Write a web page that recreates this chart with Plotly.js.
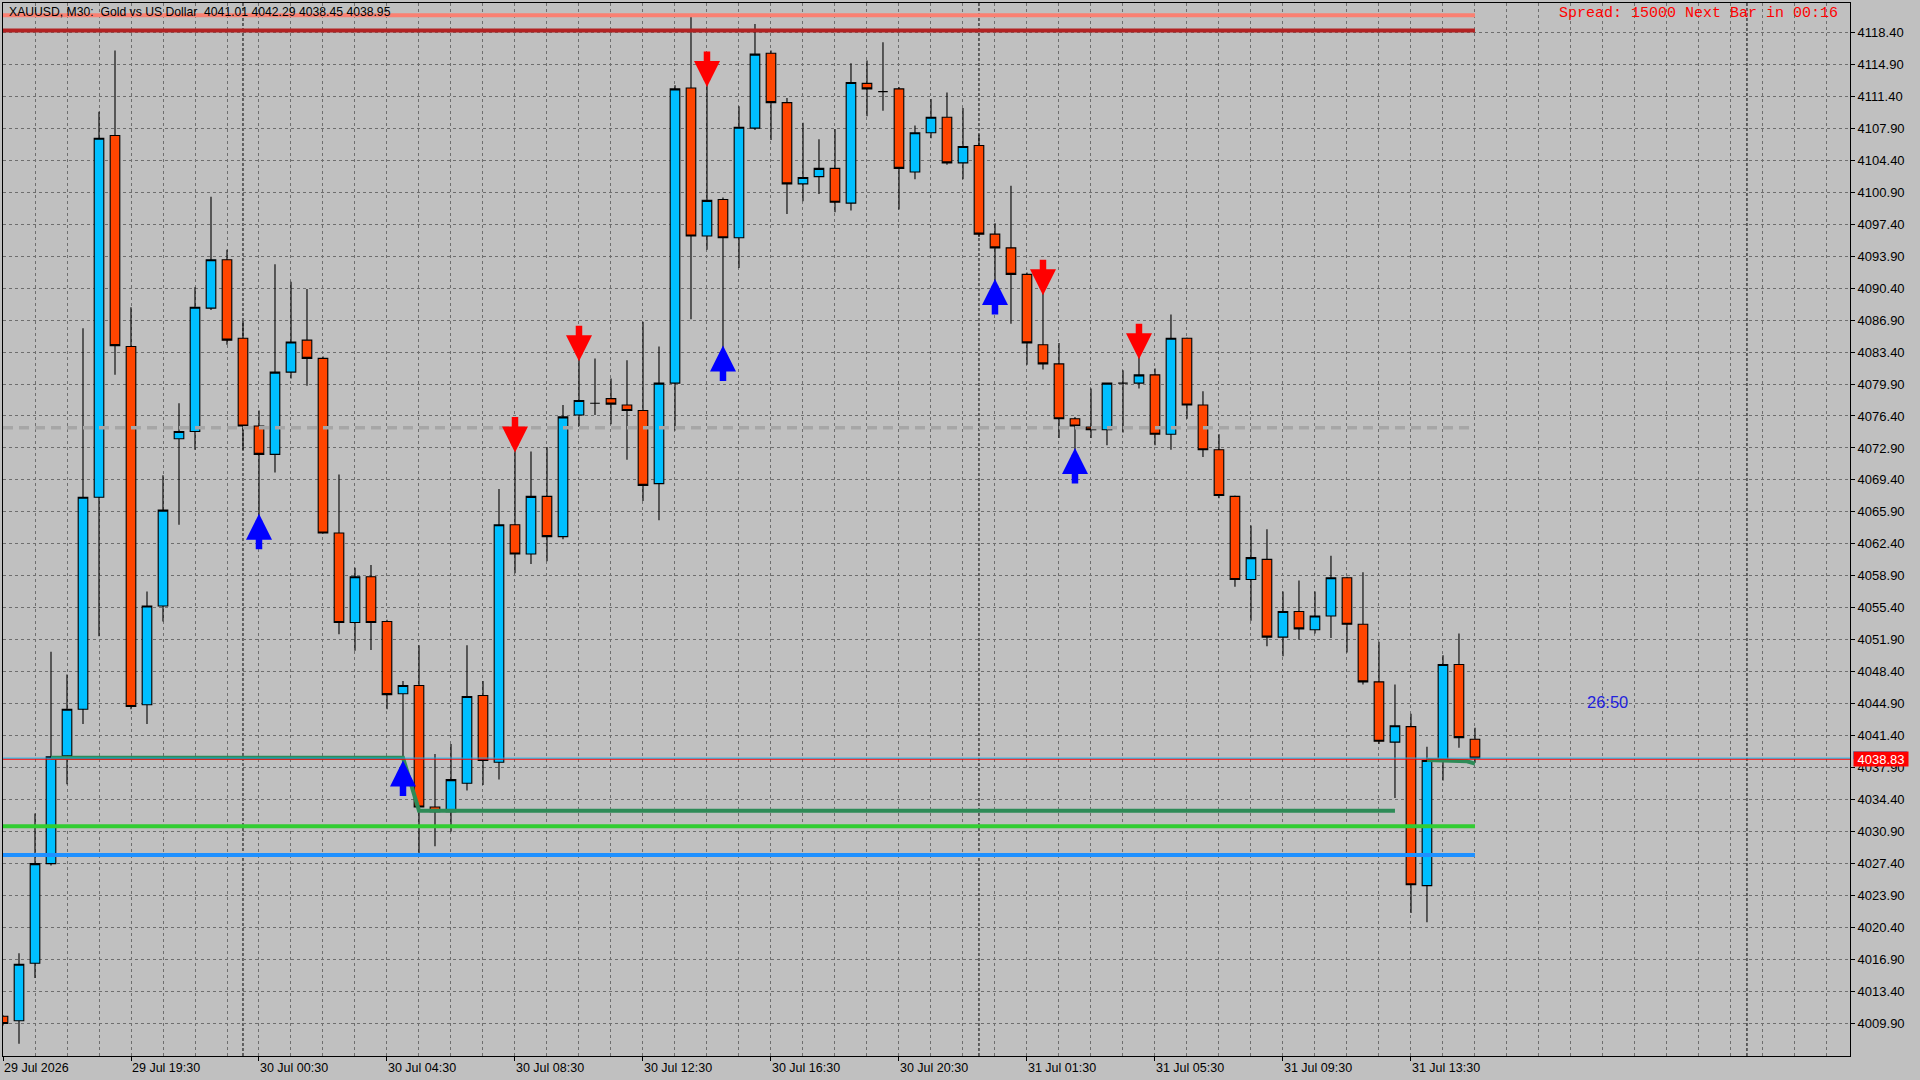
<!DOCTYPE html>
<html><head><meta charset="utf-8">
<script src="https://cdn.plot.ly/plotly-3.0.1.min.js"></script>
<style>html,body{margin:0;padding:0;background:#C0C0C0;overflow:hidden}#chart{width:1920px;height:1080px}</style>
</head><body><div id="chart"></div>
<script>
// ---- OHLC data (XAUUSD M30), bar index 0..92 ----
const openP  = [4010.7,4010.2,4016.5,4027.4,4039.2,4044.3,4067.5,4107.1,4084.0,4044.8,
                4055.6,4073.9,4074.7,4088.2,4093.5,4084.9,4075.3,4072.2,4081.2,4084.7,
                4082.7,4063.6,4053.8,4058.8,4053.9,4046.0,4046.9,4033.6,4033.1,4036.2,
                4045.8,4038.5,4064.5,4061.3,4067.6,4063.2,4076.5,4077.8,4078.3,4077.6,
                4077.0,4069.0,4080.0,4112.3,4096.1,4100.1,4095.9,4107.9,4116.1,4110.7,
                4101.8,4102.6,4103.5,4099.7,4112.8,4111.9,4112.2,4103.1,4107.4,4109.1,
                4104.1,4106.0,4096.3,4094.8,4091.9,4084.2,4082.1,4076.1,4075.2,4074.9,
                4080.0,4080.0,4080.9,4074.4,4084.9,4077.6,4072.7,4067.6,4058.5,4060.7,
                4052.2,4055.0,4053.0,4054.5,4058.7,4053.6,4047.3,4040.7,4042.4,4025.0,
                4038.7,4049.2,4041.01];
const highP  = [4010.8,4017.6,4032.9,4050.6,4048.1,4086.0,4109.7,4116.4,4088.3,4057.2,
                4069.9,4077.8,4090.5,4100.4,4094.6,4086.8,4077.0,4093.0,4091.1,4090.3,
                4082.9,4070.0,4059.8,4060.1,4054.1,4047.4,4051.3,4039.4,4040.5,4051.3,
                4047.4,4068.4,4072.9,4072.5,4073.0,4077.6,4083.0,4082.7,4080.5,4082.5,
                4086.7,4084.0,4112.6,4120.2,4113.0,4100.3,4110.3,4119.3,4116.4,4111.2,
                4108.5,4106.7,4107.8,4115.0,4115.3,4117.3,4112.4,4108.2,4111.1,4111.8,
                4110.1,4107.2,4097.5,4101.6,4092.1,4090.2,4084.4,4076.3,4079.4,4080.0,
                4081.4,4083.3,4081.6,4087.5,4085.0,4079.1,4074.4,4067.7,4064.4,4064.0,
                4057.2,4058.4,4057.2,4061.1,4058.8,4059.3,4051.7,4047.0,4043.8,4040.2,
                4050.2,4052.6,4042.29];
const lowP   = [4009.7,4007.7,4014.9,4027.2,4036.1,4042.7,4052.3,4080.9,4044.3,4042.7,
                4053.9,4064.5,4072.7,4088.0,4084.2,4072.7,4064.8,4070.2,4080.5,4079.7,
                4063.5,4052.5,4050.7,4050.8,4044.3,4037.5,4028.3,4029.3,4030.9,4035.4,
                4036.0,4036.6,4059.2,4060.2,4060.5,4062.9,4075.2,4076.5,4075.5,4071.6,
                4067.1,4065.0,4074.8,4087.0,4094.6,4083.1,4092.6,4107.7,4106.6,4098.5,
                4099.9,4100.7,4098.7,4098.9,4109.2,4109.8,4099.0,4102.3,4106.8,4103.9,
                4102.3,4096.0,4090.4,4086.5,4082.0,4081.5,4074.0,4072.0,4074.0,4073.2,
                4074.6,4079.4,4073.2,4072.7,4076.1,4071.9,4067.4,4057.7,4054.0,4051.2,
                4050.1,4051.9,4052.6,4052.1,4050.5,4047.0,4040.5,4034.6,4022.0,4021.0,
                4036.5,4040.1,4038.45];
const closeP = [4009.9,4016.4,4027.4,4039.1,4044.3,4067.5,4106.8,4084.1,4044.6,4055.6,
                4066.1,4074.7,4088.3,4093.5,4084.7,4075.3,4072.2,4081.2,4084.5,4082.7,
                4063.6,4053.8,4058.8,4053.8,4045.9,4046.9,4033.6,4033.1,4036.6,4045.7,
                4038.7,4064.5,4061.3,4067.6,4063.2,4076.3,4078.1,4077.8,4077.7,4077.0,
                4068.8,4080.0,4112.2,4096.1,4100.0,4095.9,4108.0,4116.0,4110.7,4101.8,
                4102.5,4103.5,4099.8,4112.9,4112.2,4111.9,4103.5,4107.4,4109.1,4104.1,
                4105.9,4096.3,4094.8,4091.9,4084.4,4082.1,4076.1,4075.3,4074.9,4080.0,
                4080.0,4080.9,4074.4,4084.9,4077.6,4072.7,4067.7,4058.5,4060.9,4052.2,
                4055.0,4053.1,4054.5,4058.7,4053.6,4047.3,4040.8,4042.5,4025.1,4038.7,
                4049.2,4041.2,4038.95];
const barIdx = closeP.map((_, i) => i);

// ---- axis labels ----
const xTickBars   = [0, 8, 16, 24, 32, 40, 48, 56, 64, 72, 80, 88];
const xTickLabels = ['29 Jul 2026','29 Jul 19:30','30 Jul 00:30','30 Jul 04:30','30 Jul 08:30','30 Jul 12:30',
                     '30 Jul 16:30','30 Jul 20:30','31 Jul 01:30','31 Jul 05:30','31 Jul 09:30','31 Jul 13:30'];
const yTickVals = [4009.9,4013.4,4016.9,4020.4,4023.9,4027.4,4030.9,4034.4,4037.9,4041.4,4044.9,4048.4,
                   4051.9,4055.4,4058.9,4062.4,4065.9,4069.4,4072.9,4076.4,4079.9,4083.4,4086.9,4090.4,
                   4093.9,4097.4,4100.9,4104.4,4107.9,4111.4,4114.9,4118.4];
const daySeparatorBars = [15, 61, 109];

// ---- indicator levels ----
const levelPrices = [4120.25, 4118.6, 4031.5, 4028.35];
const levelEndBar = 92;
const midLevel = 4075.1;
const stepLineBars = [3, 25, 26, 87];
const stepLinePrices = [4039.0, 4039.0, 4033.2, 4033.2];
const tailLineBars = [89, 91.5, 92];
const tailLinePrices = [4038.75, 4038.6, 4038.35];
const bidPrice = 4038.83;
const lastClose = 4038.95;
const closeTagTop = 4039.7;

// ---- signal arrows ----
const sellBars = [32, 36, 44, 65, 71];
const sellTips = [4072.4, 4082.4, 4112.4, 4089.6, 4082.6];
const buyBars  = [16, 25, 45, 62, 67];
const buyTips  = [4065.7, 4038.7, 4084.1, 4091.4, 4072.9];

// ---- texts ----
const headerText = 'XAUUSD, M30:\u00A0\u00A0Gold vs US Dollar\u00A0\u00A04041.01 4042.29 4038.45 4038.95';
const spreadText = 'Spread: 15000 Next Bar in 00:16';
const timerText = '26:50';
const timerPos = {bar: 98.9, price: 4045.1};

// ---- styles ----
const levelColors = ['#FA8072', '#B22222', '#32CD32', '#1E90FF'];
const gridCol = '#6E6E6E';
const plotW = 1847;

const traces = [];
levelPrices.forEach((p, k) => {
  traces.push({type:'scatter', mode:'lines', x:[0, levelEndBar], y:[p, p],
    line:{color:levelColors[k], width:4}, hoverinfo:'skip'});
});
traces.push({type:'scatter', mode:'lines', x:[0, levelEndBar], y:[midLevel, midLevel],
  line:{color:'#A6A6A6', width:3.5, dash:'10px,6px'}, hoverinfo:'skip'});
traces.push({type:'scatter', mode:'lines', x:stepLineBars, y:stepLinePrices,
  line:{color:'#2E8B57', width:4}, hoverinfo:'skip'});
traces.push({type:'scatter', mode:'lines', x:tailLineBars, y:tailLinePrices,
  line:{color:'#2E8B57', width:4}, hoverinfo:'skip'});
traces.push({type:'candlestick', x:barIdx, open:openP, high:highP, low:lowP, close:closeP,
  increasing:{fillcolor:'#00BFFF', line:{color:'#000000', width:1.1}},
  decreasing:{fillcolor:'#FF4500', line:{color:'#000000', width:1.1}},
  whiskerwidth:0, hoverinfo:'skip'});

const shapes = [];
daySeparatorBars.forEach(b => shapes.push({type:'line', xref:'x', yref:'paper', x0:b, x1:b, y0:0, y1:1,
  line:{color:'#000000', width:1, dash:'3px,2px'}, layer:'between'}));
shapes.push({type:'line', xref:'paper', yref:'y', x0:0, x1:1, y0:lastClose, y1:lastClose,
  line:{color:'#00BFFF', width:1}, layer:'above'});
shapes.push({type:'line', xref:'paper', yref:'y', x0:0, x1:1, y0:bidPrice, y1:bidPrice,
  line:{color:'#FF0000', width:1}, layer:'above'});
shapes.push({type:'rect', xref:'paper', yref:'y', x0:1 + 3/plotW, x1:1 + 57/plotW, y0:bidPrice, y1:closeTagTop,
  line:{width:0}, fillcolor:'#00BFFF', layer:'above'});

const arrowStyle = {text:'', showarrow:true, ax:0, arrowhead:2, arrowsize:0.8, arrowwidth:6.5,
  standoff:0, startstandoff:0, borderpad:0, font:{size:1}};
const annotations = [];
sellBars.forEach((b, k) => annotations.push(Object.assign({}, arrowStyle,
  {x:b, y:sellTips[k], xref:'x', yref:'y', ay:-36, arrowcolor:'#FF0000'})));
buyBars.forEach((b, k) => annotations.push(Object.assign({}, arrowStyle,
  {x:b, y:buyTips[k], xref:'x', yref:'y', ay:36, arrowcolor:'#0000FF'})));
annotations.push({xref:'paper', yref:'paper', x:0, y:0.9915, xanchor:'left', yanchor:'middle', xshift:4,
  text:headerText, showarrow:false, font:{family:'Liberation Sans', size:12.2, color:'#000000'}});
annotations.push({xref:'paper', yref:'paper', x:1, y:0.9905, xanchor:'right', yanchor:'middle', xshift:-10,
  text:spreadText, showarrow:false, font:{family:'Liberation Mono', size:15, color:'#FF0000'}});
annotations.push({xref:'x', yref:'y', x:timerPos.bar, y:timerPos.price, xanchor:'left', yanchor:'middle',
  text:timerText, showarrow:false, font:{family:'Liberation Sans', size:16.5, color:'#2222DD'}});
annotations.push({xref:'paper', yref:'y', x:1, y:bidPrice, xanchor:'left', yanchor:'middle', xshift:3,
  text:bidPrice.toFixed(2), showarrow:false, bgcolor:'#FF0000', width:54, height:14, borderpad:0,
  font:{family:'Liberation Sans', size:13, color:'#FFFFFF'}});

const layout = {
  width:1920, height:1080,
  paper_bgcolor:'#C0C0C0', plot_bgcolor:'#C0C0C0',
  margin:{l:3, r:70, t:3, b:24},
  showlegend:false, boxgap:0.4, boxgroupgap:0,
  font:{family:'Liberation Sans', color:'#000000'},
  xaxis:{range:[0, 115.44], rangeslider:{visible:false}, fixedrange:true,
    tickmode:'array', tickvals:xTickBars, ticktext:xTickLabels,
    ticks:'outside', ticklen:4, tickcolor:'#000000', ticklabelposition:'outside right',
    tickfont:{family:'Liberation Sans', size:12.5, color:'#000000'},
    showline:true, linecolor:'#000000', linewidth:1, mirror:true, zeroline:false,
    showgrid:true, gridcolor:gridCol, griddash:'3px,3px', gridwidth:1,
    minor:{tickmode:'linear', tick0:0, dtick:2, showgrid:true, gridcolor:gridCol, griddash:'3px,3px', gridwidth:1}},
  yaxis:{range:[4006.35, 4121.6], side:'right', fixedrange:true,
    tickmode:'array', tickvals:yTickVals, ticktext:yTickVals.map(v => v.toFixed(2)),
    ticks:'outside', ticklen:4, tickcolor:'#000000',
    tickfont:{family:'Liberation Sans', size:13, color:'#000000'},
    showline:true, linecolor:'#000000', linewidth:1, mirror:true, zeroline:false,
    showgrid:true, gridcolor:gridCol, griddash:'3px,3px', gridwidth:1},
  shapes:shapes, annotations:annotations
};

Plotly.newPlot('chart', traces, layout, {displayModeBar:false, staticPlot:true});
</script></body></html>
